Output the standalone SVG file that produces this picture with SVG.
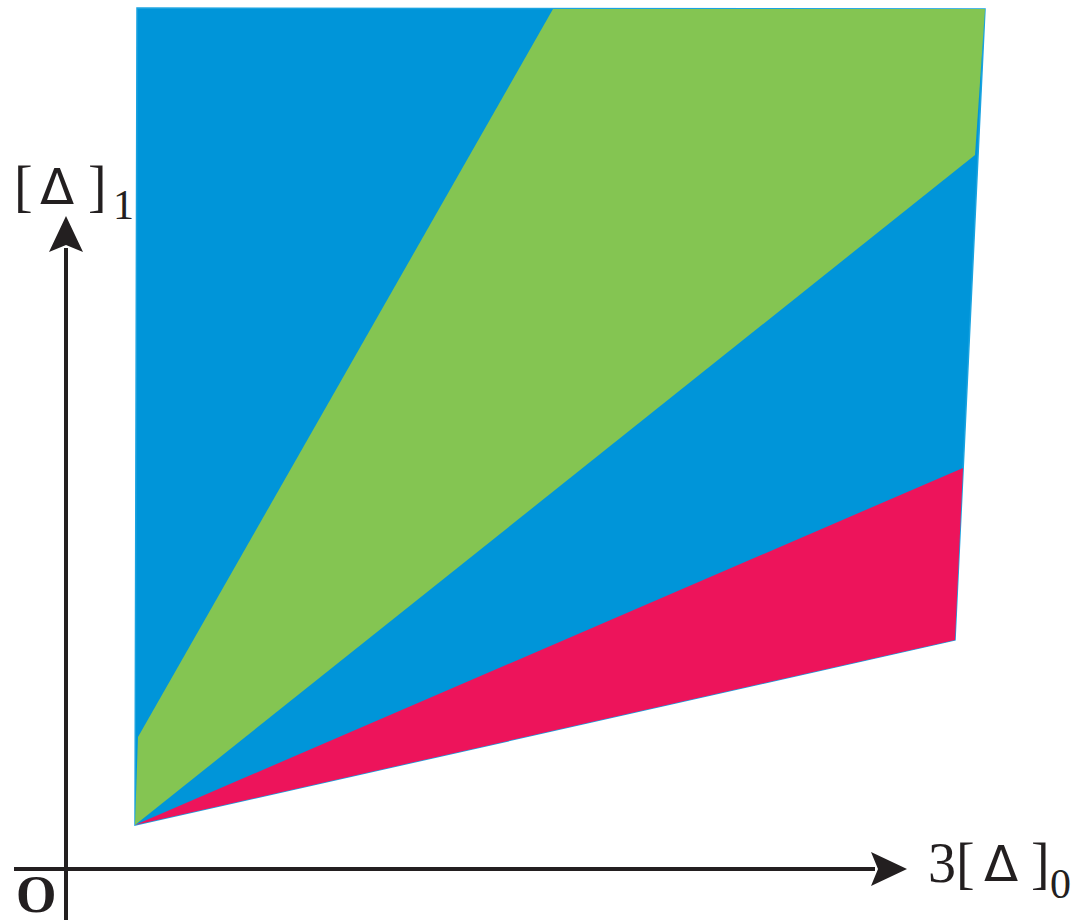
<svg xmlns="http://www.w3.org/2000/svg" width="1081" height="920" viewBox="0 0 1081 920">
<style>
.t{font-family:"Liberation Serif",serif;fill:#231f20}
.d{font-family:"DejaVu Sans","Liberation Sans",sans-serif;fill:#231f20}
.ax{stroke:#231f20;stroke-width:4;fill:none}
</style>
<g id="regions">
<polygon id="blue" points="137,8 985,9 955,640 135,825" fill="#0095d9" stroke="#1aa3e0" stroke-width="1.5"/>
<polygon id="green" points="553,9 985,9 975,155 135,825 138,737" fill="#84c552"/>
<polygon id="red" points="135,825 963,468 955,640" fill="#ed145b"/>
</g>
<g id="connectors">
<line class="ax" x1="66" y1="920" x2="66" y2="248"/>
<path d="M66,216 L83,252 L66,245 L49,252 Z" fill="#231f20"/>
<line class="ax" x1="14" y1="869" x2="875" y2="869"/>
<path d="M907,869 L871,852 L878,869 L871,886 Z" fill="#231f20"/>
</g>
<g id="ylabel">
<text class="t" x="14" y="205" font-size="56">[</text>
<text class="d" x="40" y="204" font-size="50">Δ</text>
<text class="t" x="88" y="205" font-size="56">]</text>
<text class="t" x="113" y="219" font-size="42">1</text>
</g>
<g id="xlabel">
<text class="t" x="928" y="882" font-size="56">3</text>
<text class="t" x="956" y="882" font-size="56">[</text>
<text class="d" x="984" y="881" font-size="50">Δ</text>
<text class="t" x="1031" y="882" font-size="56">]</text>
<text class="t" x="1050" y="898" font-size="42">0</text>
</g>
<g id="origin">
<text class="t" x="16" y="912" font-size="52" font-weight="bold">O</text>
</g>
</svg>
